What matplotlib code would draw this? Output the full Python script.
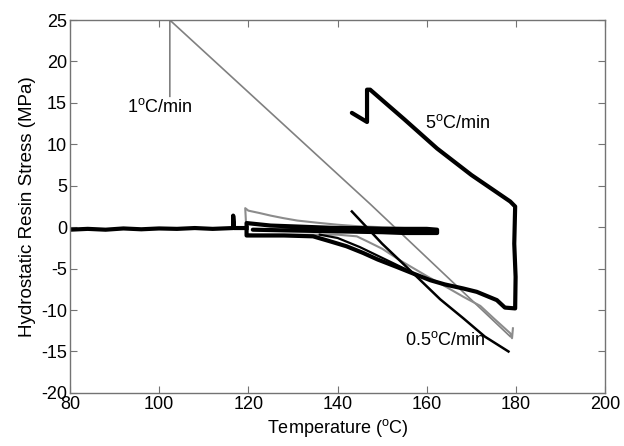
import matplotlib
matplotlib.use("Agg")
import matplotlib.pyplot as plt

plt.rcParams['font.family'] = ['Liberation Sans', 'DejaVu Sans']
plt.rcParams['mathtext.fontset'] = 'custom'
plt.rcParams['mathtext.rm'] = 'Liberation Sans'
plt.rcParams['mathtext.it'] = 'Liberation Sans:italic'
plt.rcParams['axes.unicode_minus'] = False

# 1 C/min run (gray, long straight cooling line)
t_1 = [102.4, 102.4, 102.4, 147.3, 178.7]
s_1 = [15.8, 25.5, 25.0, 2.8, -13.2]

# second gray trace (cooling branch + heating band)
t_g = [179.3, 179.1, 178.7, 175, 172, 168.2, 164, 160, 157.8, 154, 150, 147, 144.3,
       140, 135, 130, 125, 121, 119.6, 119.3, 120, 122.6, 125, 127.8, 131, 135.3,
       140, 145, 150, 155, 160]
s_g = [-12.2, -13.4, -12.8, -11.0, -9.5, -8.4, -7.1, -5.9, -5.2, -4.0, -2.6, -1.8, -1.1,
       -0.9, -0.9, -0.9, -0.9, -0.9, -0.8, 2.3, 2.0, 1.7, 1.4, 1.1, 0.8, 0.55,
       0.3, 0.1, 0.0, -0.1, -0.2]

# 5 C/min run (thick black)
t_5 = [143.2, 146.6, 146.6, 147.3, 155, 162.3, 170, 178.7, 179.8, 179.6, 179.9, 179.8,
       177.5, 175.7, 171.2, 168.2, 164, 160.8, 157, 153.3, 149, 145.7, 142, 138.3,
       134.5, 128, 122, 119.6, 119.6, 125, 130, 135, 140, 145, 150, 155, 160, 162.3,
       162.3, 155, 150, 140, 130, 121]
s_5 = [13.8, 12.7, 16.6, 16.6, 13.0, 9.5, 6.3, 3.1, 2.5, -2.0, -6.0, -9.8,
       -9.7, -8.8, -7.8, -7.4, -6.9, -6.4, -5.6, -4.8, -3.9, -3.1, -2.3, -1.7,
       -1.1, -1.0, -1.0, -1.0, 0.5, 0.2, 0.1, 0.0, -0.1, -0.1, -0.2, -0.2, -0.2, -0.3,
       -0.7, -0.7, -0.6, -0.5, -0.4, -0.3]

# flat black baseline 80-120
t_flat = [80, 84, 88, 92, 96, 100, 104, 108, 112, 116.6, 116.6, 116.8, 119.6]
s_flat = [-0.3, -0.2, -0.3, -0.15, -0.25, -0.15, -0.2, -0.1, -0.2, -0.1, 1.4, -0.1, -0.1]

# 0.5 C/min run (thin black)
t_05 = [143.2, 150, 157.8, 163, 168.2, 173, 178.3]
s_05 = [1.9, -2.0, -6.0, -8.7, -11.0, -13.2, -15.0]
t_05b = [136, 140, 145, 150, 155, 157.8]
s_05b = [-0.9, -1.3, -2.4, -3.7, -5.0, -5.9]

fig = plt.figure(figsize=(6.24, 4.46), dpi=100)
ax = fig.add_axes([0.112, 0.119, 0.858, 0.836])

ax.plot(t_1, s_1, color='0.5', lw=1.2)
ax.plot(t_g, s_g, color='0.55', lw=1.5)
ax.plot(t_flat, s_flat, color='black', lw=3.0)
ax.plot(t_05b, s_05b, color='black', lw=1.6)
ax.plot(t_05, s_05, color='black', lw=1.8)
ax.plot(t_5, s_5, color='black', lw=3.0, solid_capstyle='round', solid_joinstyle='round')

ax.text(92.8, 14.5, r'1$^\mathrm{o}$C/min', fontsize=13, va='center', ha='left')
ax.text(159.6, 12.6, r'5$^\mathrm{o}$C/min', fontsize=13, va='center', ha='left')
ax.text(155.1, -13.6, r'0.5$^\mathrm{o}$C/min', fontsize=13, va='center', ha='left')

ax.set_xlim(80, 200)
ax.set_ylim(-20, 25)
ax.set_xticks(range(80, 201, 20))
ax.set_yticks(range(-20, 26, 5))
ax.tick_params(direction='in', top=True, right=True, length=5, width=0.8,
               color='0.45', labelsize=13, pad=2)
for sp in ax.spines.values():
    sp.set_color('0.45')
    sp.set_linewidth(1.0)

ax.set_xlabel(r'Temperature ($^\mathrm{o}$C)', fontsize=13, labelpad=3)
ax.set_ylabel('Hydrostatic Resin Stress (MPa)', fontsize=13.5, labelpad=4)

fig.savefig('out.png', dpi=100)
